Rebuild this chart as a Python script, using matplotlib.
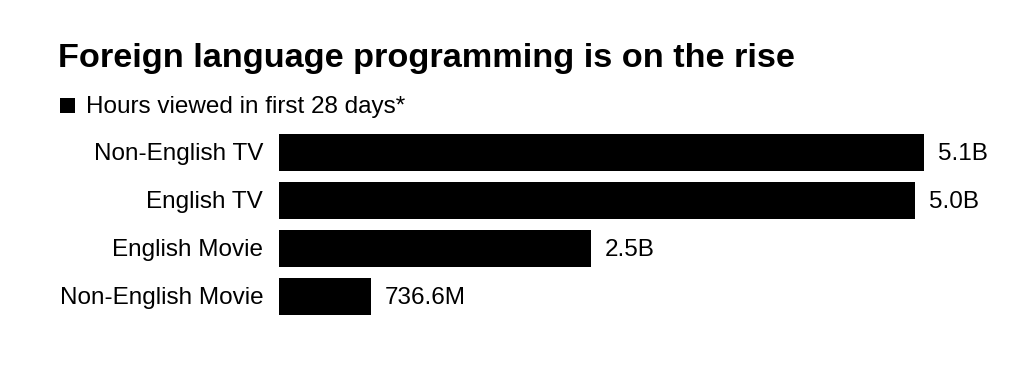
import matplotlib
matplotlib.use("Agg")
import matplotlib.pyplot as plt
from matplotlib.patches import Rectangle

categories = ["Non-English TV", "English TV", "English Movie", "Non-English Movie"]
hours_billion = [5.147, 5.08, 2.49, 0.7366]
value_labels = ["5.1B", "5.0B", "2.5B", "736.6M"]

title = "Foreign language programming is on the rise"
legend_label = "Hours viewed in first 28 days*"

plt.rcParams['font.family'] = ['Liberation Sans', 'DejaVu Sans']

W, H = 1024, 385
fig = plt.figure(figsize=(W / 100, H / 100), dpi=100)
fig.patch.set_facecolor("white")

# axes in pixel coords
ax_left, ax_right = 278.7, 1010
top_px, bottom_px = 128.5, 321.0  # spans 4 rows of pitch ~48.1
ax = fig.add_axes([ax_left / W, 1 - bottom_px / H, (ax_right - ax_left) / W, (bottom_px - top_px) / H])
px_per_b = 125.3
ax.set_xlim(0, (ax_right - ax_left) / px_per_b)
n = len(categories)
ax.set_ylim(n - 0.5, -0.5)

ypos = list(range(n))
ax.barh(ypos, hours_billion, height=0.77, color="black", edgecolor="none")
for y, v, lab in zip(ypos, hours_billion, value_labels):
    ax.annotate(lab, xy=(v, y), xytext=(14, -7.5), textcoords="offset pixels",
                va="baseline", ha="left", fontsize=17.5, color="black",
                annotation_clip=False)
for y, cat in zip(ypos, categories):
    ax.annotate(cat, xy=(0, y), xytext=(-15.5, -7.5), textcoords="offset pixels",
                va="baseline", ha="right", fontsize=17.5, color="black",
                annotation_clip=False)

ax.set_yticks([])
ax.set_xticks([])
for s in ax.spines.values():
    s.set_visible(False)

fig.text(58 / W, 1 - 67.5 / H, title, fontsize=24.7, fontweight="bold",
         va="baseline", ha="left", color="black")
fig.patches.append(Rectangle((60 / W, 1 - 113 / H), 15 / W, 15 / H,
                             transform=fig.transFigure, facecolor="black",
                             edgecolor="none"))
fig.text(86 / W, 1 - 113.3 / H, legend_label, fontsize=17.5, va="baseline",
         ha="left", color="black")

fig.savefig("out.png", dpi=100, facecolor="white")
